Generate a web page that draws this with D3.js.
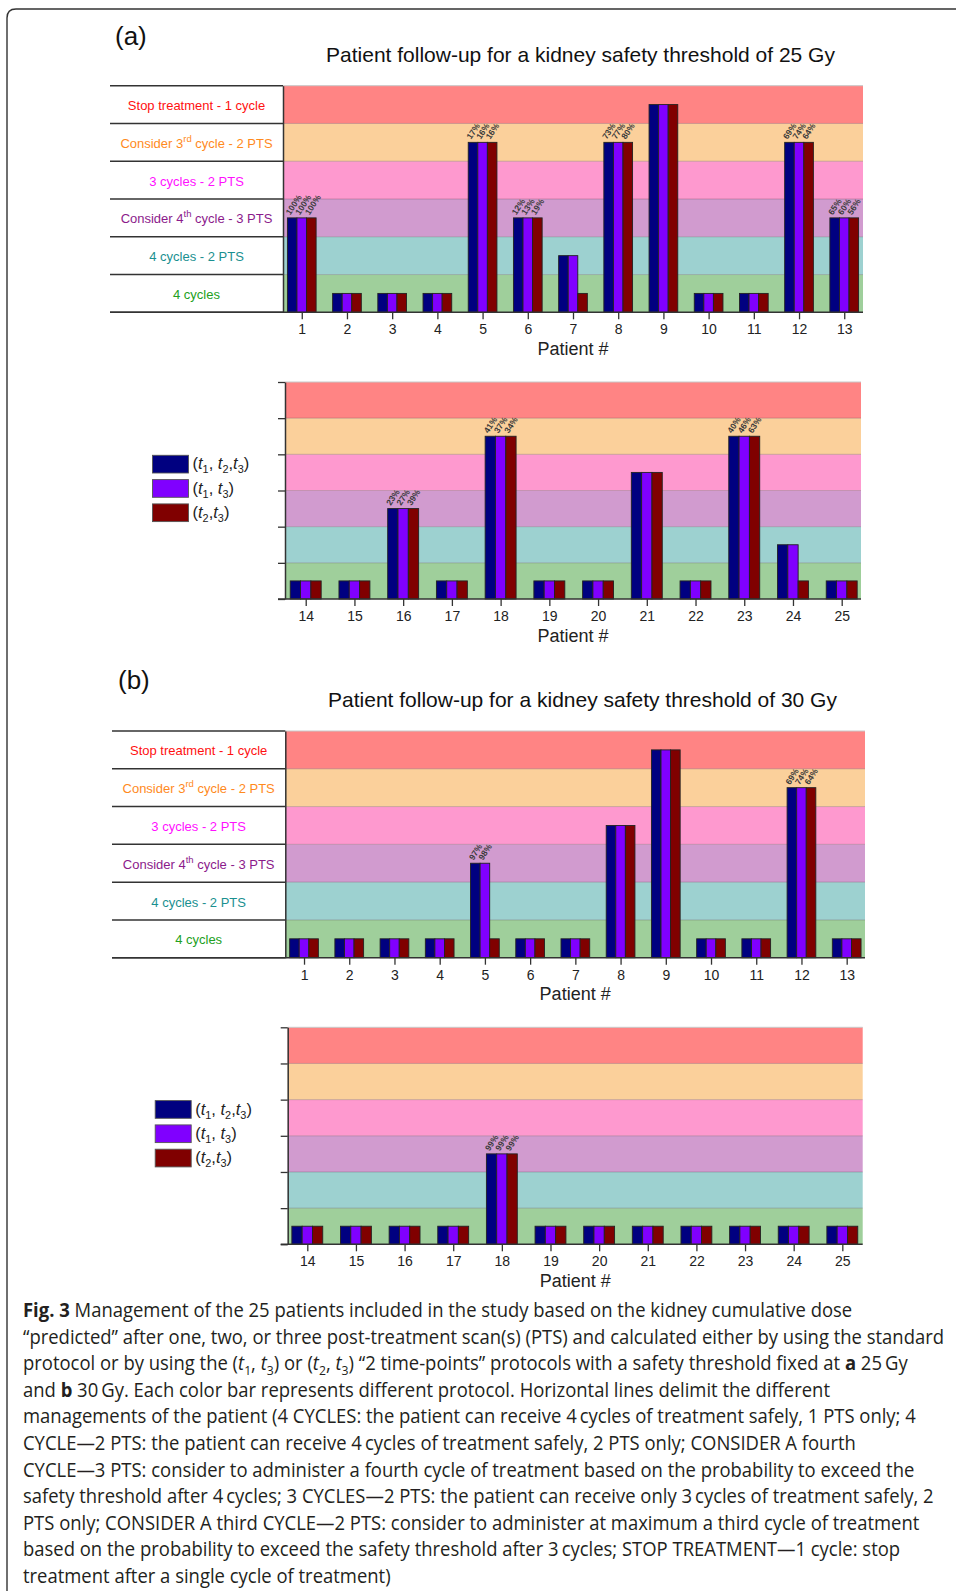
<!DOCTYPE html>
<html>
<head>
<meta charset="utf-8">
<script src="https://cdn.jsdelivr.net/npm/d3@7"></script>
<style>
  body { margin: 0; background: #fff; }
  svg { display: block; }
</style>
</head>
<body>
<svg id="fig" width="956" height="1591"></svg>
<script>
// ---- Management levels (bottom to top) ----
const levelNames = ["4 cycles", "4 cycles - 2 PTS", "Consider 4th cycle - 3 PTS",
                    "3 cycles - 2 PTS", "Consider 3rd cycle - 2 PTS", "Stop treatment - 1 cycle"];
// label pieces: [before, superscript, after]
const levelLabelParts = [["4 cycles", "", ""], ["4 cycles - 2 PTS", "", ""], ["Consider 4", "th", " cycle - 3 PTS"],
                         ["3 cycles - 2 PTS", "", ""], ["Consider 3", "rd", " cycle - 2 PTS"], ["Stop treatment - 1 cycle", "", ""]];
const bandFills = ["#9fcf9b", "#9dd1d0", "#d19bcf", "#fe99cf", "#fbd09b", "#ff8484"];
const levelTextColors = ["#22a022", "#1a9090", "#8b1a8b", "#ff10ff", "#ff8a1d", "#ff1010"];

// ---- Protocols ----
const seriesKeys = ["t123", "t13", "t23"];
const seriesColors = ["#000080", "#8000ff", "#800000"];
// legend label pieces: [text, style]
const seriesLabels = [
  [["(", ""], ["t", "i"], ["1", "sub"], [", ", ""], ["t", "i"], ["2", "sub"], [",", ""], ["t", "i"], ["3", "sub"], [")", ""]],
  [["(", ""], ["t", "i"], ["1", "sub"], [", ", ""], ["t", "i"], ["3", "sub"], [")", ""]],
  [["(", ""], ["t", "i"], ["2", "sub"], [",", ""], ["t", "i"], ["3", "sub"], [")", ""]]
];

// ---- Patients ----
const patientsFirst = [1, 2, 3, 4, 5, 6, 7, 8, 9, 10, 11, 12, 13];
const patientsSecond = [14, 15, 16, 17, 18, 19, 20, 21, 22, 23, 24, 25];

// ---- Threshold 25 Gy: management level reached (1 = "4 cycles" ... 6 = "Stop treatment") ----
const gy25First_t123 = [3, 1, 1, 1, 5, 3, 2, 5, 6, 1, 1, 5, 3];
const gy25First_t13  = [3, 1, 1, 1, 5, 3, 2, 5, 6, 1, 1, 5, 3];
const gy25First_t23  = [3, 1, 1, 1, 5, 3, 1, 5, 6, 1, 1, 5, 3];
const gy25First_lab_t123 = ["100%", "", "", "", "17%", "12%", "", "73%", "", "", "", "69%", "65%"];
const gy25First_lab_t13  = ["100%", "", "", "", "16%", "13%", "", "77%", "", "", "", "74%", "60%"];
const gy25First_lab_t23  = ["100%", "", "", "", "16%", "19%", "", "80%", "", "", "", "64%", "56%"];

const gy25Second_t123 = [1, 1, 3, 1, 5, 1, 1, 4, 1, 5, 2, 1];
const gy25Second_t13  = [1, 1, 3, 1, 5, 1, 1, 4, 1, 5, 2, 1];
const gy25Second_t23  = [1, 1, 3, 1, 5, 1, 1, 4, 1, 5, 1, 1];
const gy25Second_lab_t123 = ["", "", "23%", "", "41%", "", "", "", "", "40%", "", ""];
const gy25Second_lab_t13  = ["", "", "27%", "", "37%", "", "", "", "", "46%", "", ""];
const gy25Second_lab_t23  = ["", "", "39%", "", "34%", "", "", "", "", "63%", "", ""];

// ---- Threshold 30 Gy ----
const gy30First_t123 = [1, 1, 1, 1, 3, 1, 1, 4, 6, 1, 1, 5, 1];
const gy30First_t13  = [1, 1, 1, 1, 3, 1, 1, 4, 6, 1, 1, 5, 1];
const gy30First_t23  = [1, 1, 1, 1, 1, 1, 1, 4, 6, 1, 1, 5, 1];
const gy30First_lab_t123 = ["", "", "", "", "97%", "", "", "", "", "", "", "69%", ""];
const gy30First_lab_t13  = ["", "", "", "", "98%", "", "", "", "", "", "", "74%", ""];
const gy30First_lab_t23  = ["", "", "", "", "", "", "", "", "", "", "", "64%", ""];

const gy30Second_t123 = [1, 1, 1, 1, 3, 1, 1, 1, 1, 1, 1, 1];
const gy30Second_t13  = [1, 1, 1, 1, 3, 1, 1, 1, 1, 1, 1, 1];
const gy30Second_t23  = [1, 1, 1, 1, 3, 1, 1, 1, 1, 1, 1, 1];
const gy30Second_lab_t123 = ["", "", "", "", "99%", "", "", "", "", "", "", ""];
const gy30Second_lab_t13  = ["", "", "", "", "99%", "", "", "", "", "", "", ""];
const gy30Second_lab_t23  = ["", "", "", "", "99%", "", "", "", "", "", "", ""];

const titles = ["Patient follow-up for a kidney safety threshold of 25 Gy",
                "Patient follow-up for a kidney safety threshold of 30 Gy"];
const panelLetters = ["(a)", "(b)"];
const xAxisTitle = "Patient #";

// ---- Caption lines: [text, style] pieces ----
const captionLines = [
  [["Fig. 3", "b"], [" Management of the 25 patients included in the study based on the kidney cumulative dose", ""]],
  [["\u201cpredicted\u201d after one, two, or three post-treatment scan(s) (PTS) and calculated either by using the standard", ""]],
  [["protocol or by using the (", ""], ["t", "i"], ["1", "sub"], [", ", ""], ["t", "i"], ["3", "sub"], [") or (", ""], ["t", "i"], ["2", "sub"], [", ", ""], ["t", "i"], ["3", "sub"], [") \u201c2 time-points\u201d protocols with a safety threshold fixed at ", ""], ["a", "b"], [" 25\u2009Gy", ""]],
  [["and ", ""], ["b", "b"], [" 30\u2009Gy. Each color bar represents different protocol. Horizontal lines delimit the different", ""]],
  [["managements of the patient (4 CYCLES: the patient can receive 4\u2009cycles of treatment safely, 1 PTS only; 4", ""]],
  [["CYCLE\u20142 PTS: the patient can receive 4\u2009cycles of treatment safely, 2 PTS only; CONSIDER A fourth", ""]],
  [["CYCLE\u20143 PTS: consider to administer a fourth cycle of treatment based on the probability to exceed the", ""]],
  [["safety threshold after 4\u2009cycles; 3 CYCLES\u20142 PTS: the patient can receive only 3\u2009cycles of treatment safely, 2", ""]],
  [["PTS only; CONSIDER A third CYCLE\u20142 PTS: consider to administer at maximum a third cycle of treatment", ""]],
  [["based on the probability to exceed the safety threshold after 3\u2009cycles; STOP TREATMENT\u20141 cycle: stop", ""]],
  [["treatment after a single cycle of treatment)", ""]]
];

const FONT = "'Liberation Sans', Arial, Helvetica, sans-serif";
const svg = d3.select("#fig");

// outer frame (rounded top-left corner)
svg.append("path")
  .attr("d", "M7,1591 V18 Q7,9 16,9 H956")
  .attr("fill", "none").attr("stroke", "#333").attr("stroke-width", 1.4);

function appendPieces(textSel, pieces, baseSize) {
  let shifted = 0;
  pieces.forEach(([txt, style]) => {
    const t = textSel.append("tspan").text(txt);
    if (style === "b") t.attr("font-weight", "bold");
    if (style === "i") t.attr("font-style", "italic");
    if (style === "sub") {
      t.attr("font-size", baseSize * 0.66).attr("dy", baseSize * 0.25);
      shifted = baseSize * 0.25;
    } else if (shifted) {
      t.attr("dy", -shifted);
      shifted = 0;
    }
  });
}

function drawPanel(cfg) {
  const g = svg.append("g");
  const x = d3.scaleLinear().domain(cfg.domain).range([cfg.x0, cfg.x1]);
  const y = d3.scaleLinear().domain([0, 6]).range([cfg.y1, cfg.y0]);
  const step = x(cfg.patients[1]) - x(cfg.patients[0]);
  const groupW = step * 0.635;
  const subW = groupW / 3;

  // management bands
  g.selectAll("rect.band").data(levelNames).join("rect")
    .attr("class", "band")
    .attr("x", cfg.x0).attr("width", cfg.x1 - cfg.x0)
    .attr("y", (d, i) => y(i + 1)).attr("height", (d, i) => y(i) - y(i + 1))
    .attr("fill", (d, i) => bandFills[i]);
  g.selectAll("line.sep").data(d3.range(1, 7)).join("line")
    .attr("class", "sep")
    .attr("x1", cfg.x0).attr("x2", cfg.x1)
    .attr("y1", d => y(d)).attr("y2", d => y(d))
    .attr("stroke", (d) => d === 6 ? "#c8c8c8" : "rgba(80,60,70,0.28)")
    .attr("stroke-width", 1);

  // bars
  const rows = cfg.patients.map((p, j) => ({
    p,
    vals: cfg.series.map(s => s[j]),
    labs: cfg.labels.map(s => s[j])
  }));
  const grp = g.selectAll("g.patient").data(rows).join("g").attr("class", "patient");
  grp.selectAll("rect").data(d => d.vals.map((v, s) => ({ p: d.p, v, s }))).join("rect")
    .attr("x", d => x(d.p) - groupW / 2 + d.s * subW)
    .attr("width", subW)
    .attr("y", d => y(d.v - 0.5))
    .attr("height", d => y(0) - y(d.v - 0.5))
    .attr("fill", d => seriesColors[d.s])
    .attr("stroke", "#222").attr("stroke-width", 0.9);

  // probability labels above bars
  const lx = d => x(d.p) - groupW / 2 + d.s * subW + subW * 0.3;
  const ly = d => y(d.v - 0.5) - 2.5;
  grp.selectAll("text").data(d => d.labs.map((l, s) => ({ p: d.p, l, s, v: d.vals[s] })).filter(d => d.l))
    .join("text")
    .attr("x", lx)
    .attr("y", ly)
    .attr("transform", d => `rotate(-57, ${lx(d)}, ${ly(d)})`)
    .attr("font-family", FONT).attr("font-size", 8.5).attr("font-weight", "bold").attr("fill", "#3a3a3a")
    .text(d => d.l);

  // x axis
  const ax = g.append("g").attr("transform", `translate(0,${cfg.y1})`)
    .call(d3.axisBottom(x).tickValues(cfg.patients).tickFormat(d3.format("d")).tickSize(7).tickSizeOuter(0).tickPadding(5));
  ax.select(".domain").remove();
  ax.selectAll(".tick line").attr("stroke", "#333").attr("stroke-width", 1.3);
  ax.selectAll(".tick text").attr("font-family", FONT).attr("font-size", 14).attr("fill", "#222");
  const axisStart = cfg.table ? cfg.table : cfg.x0 - 7;
  g.append("line").attr("x1", axisStart).attr("x2", cfg.x1).attr("y1", cfg.y1).attr("y2", cfg.y1)
    .attr("stroke", "#333").attr("stroke-width", 1.5);
  g.append("text").attr("x", (cfg.x0 + cfg.x1) / 2).attr("y", cfg.y1 + 42.5)
    .attr("text-anchor", "middle").attr("font-family", FONT).attr("font-size", 18).attr("fill", "#222")
    .text(xAxisTitle);

  // y axis
  const ay = g.append("g").attr("transform", `translate(${cfg.x0},0)`)
    .call(d3.axisLeft(y).tickValues(d3.range(0, 7)).tickFormat("").tickSize(cfg.table ? 0 : 7).tickSizeOuter(0));
  ay.select(".domain").attr("stroke", "#333").attr("stroke-width", 1.5);
  ay.selectAll(".tick line").attr("stroke", "#333").attr("stroke-width", 1.3);

  if (cfg.table) {
    // row lines and management names
    g.selectAll("line.row").data(d3.range(0, 7)).join("line")
      .attr("class", "row")
      .attr("x1", cfg.table).attr("x2", cfg.x0)
      .attr("y1", d => y(d)).attr("y2", d => y(d))
      .attr("stroke", "#333").attr("stroke-width", 1.5);
    levelLabelParts.forEach((parts, i) => {
      const t = g.append("text")
        .attr("x", (cfg.table + cfg.x0) / 2).attr("y", y(i + 0.5) + 5.5)
        .attr("text-anchor", "middle").attr("font-family", FONT).attr("font-size", 13)
        .attr("fill", levelTextColors[i]);
      t.append("tspan").text(parts[0]);
      if (parts[1]) {
        t.append("tspan").attr("font-size", 9.5).attr("dy", -6).text(parts[1]);
        t.append("tspan").attr("dy", 6).text(parts[2]);
      }
    });
  } else {
    // legend
    const gx = cfg.x0 - 132.5, gy = cfg.y0 + 73.3;
    seriesLabels.forEach((pieces, s) => {
      g.append("rect").attr("x", gx).attr("y", gy + s * 24.3).attr("width", 36).attr("height", 17.7)
        .attr("fill", seriesColors[s]).attr("stroke", "#555").attr("stroke-width", 0.9);
      const t = g.append("text").attr("x", gx + 40).attr("y", gy + s * 24.3 + 14)
        .attr("font-family", FONT).attr("font-size", 16.5).attr("fill", "#222");
      appendPieces(t, pieces, 16.5);
    });
  }
}

// titles and panel letters
[[115, 45, 580.5, 61.5], [118, 689, 582.5, 706.5]].forEach(([lx, ly, tx, ty], k) => {
  svg.append("text").attr("x", lx).attr("y", ly).attr("font-family", FONT).attr("font-size", 26)
    .attr("fill", "#111").text(panelLetters[k]);
  svg.append("text").attr("x", tx).attr("y", ty).attr("text-anchor", "middle")
    .attr("font-family", FONT).attr("font-size", 21).attr("fill", "#111").text(titles[k]);
});

drawPanel({ patients: patientsFirst, x0: 283, x1: 863, y0: 85.7, y1: 312.3, domain: [0.585, 13.415], table: 110,
  series: [gy25First_t123, gy25First_t13, gy25First_t23],
  labels: [gy25First_lab_t123, gy25First_lab_t13, gy25First_lab_t23] });
drawPanel({ patients: patientsSecond, x0: 285, x1: 861, y0: 382, y1: 599, domain: [13.575, 25.396],
  series: [gy25Second_t123, gy25Second_t13, gy25Second_t23],
  labels: [gy25Second_lab_t123, gy25Second_lab_t13, gy25Second_lab_t23] });
drawPanel({ patients: patientsFirst, x0: 285.3, x1: 865, y0: 731, y1: 957.7, domain: [0.586, 13.405], table: 112,
  series: [gy30First_t123, gy30First_t13, gy30First_t23],
  labels: [gy30First_lab_t123, gy30First_lab_t13, gy30First_lab_t23] });
drawPanel({ patients: patientsSecond, x0: 287.7, x1: 862.7, y0: 1027.3, y1: 1244.3, domain: [13.597, 25.419],
  series: [gy30Second_t123, gy30Second_t13, gy30Second_t23],
  labels: [gy30Second_lab_t123, gy30Second_lab_t13, gy30Second_lab_t23] });

// caption, horizontally condensed so the longest line fits the text column
const cap = svg.append("g");
const capLines = captionLines.map((pieces, i) => {
  const t = cap.append("text").attr("x", 0).attr("y", 1317 + i * 26.6)
    .attr("font-family", "'Open Sans', 'Noto Sans', sans-serif").attr("font-size", 19.5).attr("fill", "#231f20");
  appendPieces(t, pieces, 19.5);
  return t;
});
const widest = d3.max(capLines, t => t.node().getComputedTextLength());
const sx = 922 / widest;
cap.attr("transform", `translate(23,0) scale(${sx},1)`);
</script>
</body>
</html>
